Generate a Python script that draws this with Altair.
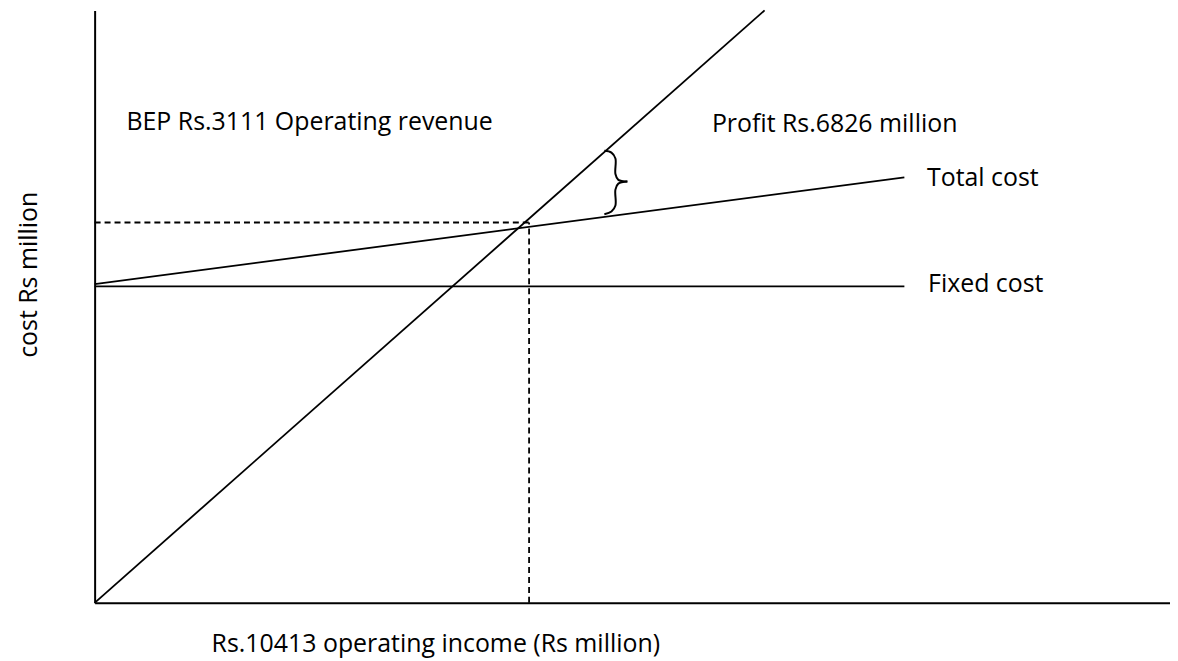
import altair as alt
import pandas as pd

# ---- data (abstract units) ----
rev_x = [0, 62.3]
rev_y = [0, 100]
tc_x = [0, 75.3]
tc_y = [53.8, 71.8]
fc_x = [0, 75.3]
fc_y = [53.4, 53.4]
bep_x = 40.4
bep_y = 64.2

# brace between revenue and total cost (two halves meeting at the cusp)
brace_up_x = [47.4, 48.06, 48.43, 48.43, 48.7, 49.54]
brace_up_y = [76.3, 76.0, 75.0, 72.4, 71.4, 71.1]
brace_lo_x = [49.54, 48.7, 48.43, 48.43, 48.06, 47.4]
brace_lo_y = [71.1, 70.76, 69.75, 67.06, 66.05, 65.6]

labels_text = ["BEP Rs.3111 Operating revenue", "Profit Rs.6826 million", "Total cost", "Fixed cost"]
labels_x = [2.96, 57.4, 77.4, 77.5]
labels_y = [79.8, 79.4, 70.3, 52.4]

x_title = "Rs.10413 operating income (Rs million)"
y_title = "cost Rs million"

FONT = "Open Sans"
FS = 25

lines = pd.DataFrame(
    [{"series": "rev", "x": x, "y": y, "o": i} for i, (x, y) in enumerate(zip(rev_x, rev_y))]
    + [{"series": "tc", "x": x, "y": y, "o": i} for i, (x, y) in enumerate(zip(tc_x, tc_y))]
    + [{"series": "fc", "x": x, "y": y, "o": i} for i, (x, y) in enumerate(zip(fc_x, fc_y))]
)
dashed = pd.DataFrame([
    {"series": "h", "x": 0, "y": bep_y, "o": 0},
    {"series": "h", "x": bep_x, "y": bep_y, "o": 1},
    {"series": "v", "x": bep_x, "y": 0, "o": 0},
    {"series": "v", "x": bep_x, "y": bep_y, "o": 1},
])
brace = pd.DataFrame(
    [{"part": "up", "x": x, "y": y, "o": i} for i, (x, y) in enumerate(zip(brace_up_x, brace_up_y))]
    + [{"part": "lo", "x": x, "y": y, "o": i} for i, (x, y) in enumerate(zip(brace_lo_x, brace_lo_y))]
)
labels = pd.DataFrame({"t": labels_text, "x": labels_x, "y": labels_y})

xs = alt.Scale(domain=[0, 100], nice=False, zero=True)
ys = alt.Scale(domain=[0, 100], nice=False, zero=True)

axis_x = alt.Axis(
    title=x_title, ticks=False, labels=False, grid=False, domain=True,
    domainColor="black", domainWidth=2,
    titleFont=FONT, titleFontSize=FS, titleFontWeight="normal", titleColor="black",
    titleX=117, titleY=49, titleBaseline="alphabetic", titleAlign="left",
)
axis_y = alt.Axis(
    title=y_title, ticks=False, labels=False, grid=False, domain=True,
    domainColor="black", domainWidth=2,
    titleFont=FONT, titleFontSize=FS, titleFontWeight="normal", titleColor="black",
    titleX=-58, titleY=265, titleBaseline="alphabetic", titleAlign="center", titleAngle=270,
)

X = lambda: alt.X("x:Q", scale=xs, axis=axis_x, title=x_title)
Y = lambda: alt.Y("y:Q", scale=ys, axis=axis_y, title=y_title)

main = alt.Chart(lines).mark_line(color="black", strokeWidth=1.8).encode(
    x=X(), y=Y(), detail="series:N", order="o:Q",
)

dash = alt.Chart(dashed).mark_line(color="black", strokeWidth=1.8, strokeDash=[6, 4]).encode(
    x=X(), y=Y(), detail="series:N", order="o:Q",
)

br = alt.Chart(brace).mark_line(color="black", strokeWidth=2, interpolate="catmull-rom").encode(
    x=X(), y=Y(), detail="part:N", order="o:Q",
)

txt = alt.Chart(labels).mark_text(
    align="left", baseline="alphabetic", font=FONT, fontSize=FS, color="black"
).encode(
    x=X(), y=Y(), text="t:N",
)

chart = alt.layer(main, dash, br, txt).properties(
    width=1080, height=595,
    padding={"left": 87, "top": 1, "right": 0, "bottom": 57},
    autosize=alt.AutoSizeParams(type="none"),
    background="white",
).configure_view(stroke=None)

chart.save("out.html", embed_options={"renderer": "svg", "actions": False})
